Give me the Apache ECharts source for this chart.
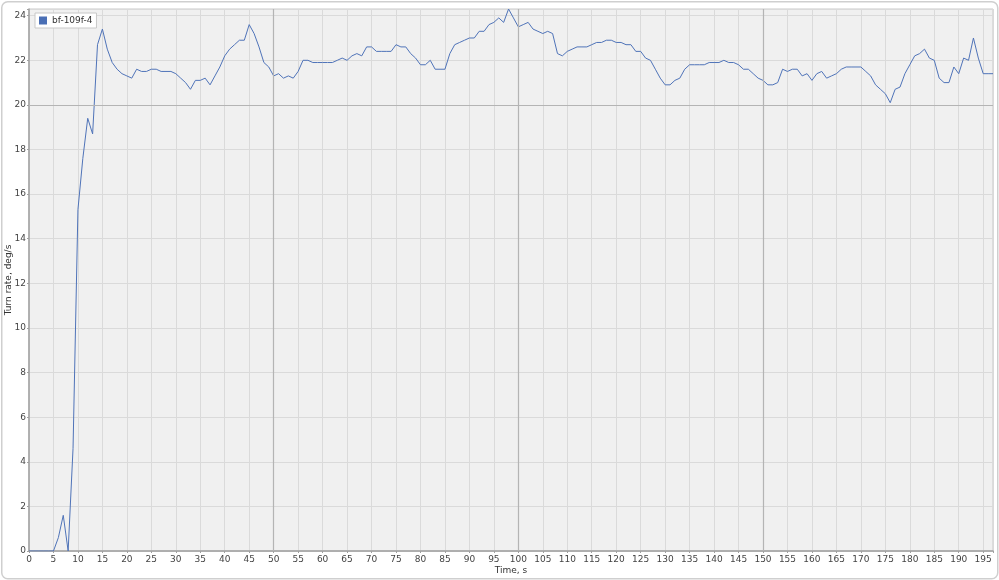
<!DOCTYPE html>
<html><head><meta charset="utf-8">
<script src="https://cdn.jsdelivr.net/npm/echarts@6/dist/echarts.min.js"></script>
<style>html,body{margin:0;padding:0;background:#fff}#c{width:999px;height:580px}</style>
</head><body><div id="c"></div>
<script>
const seriesName = 'bf-109f-4';
const xLabel = 'Time, s';
const yLabel = 'Turn rate, deg/s';
const times = [];
for (let t = 0; t <= 197; t++) times.push(t);
const turnRate = [
 0,0,0,0,0,0,0.6,1.6,0,4.6,
 15.3,17.6,19.4,18.7,22.7,23.4,22.5,21.9,21.6,21.4,
 21.3,21.2,21.6,21.5,21.5,21.6,21.6,21.5,21.5,21.5,
 21.4,21.2,21.0,20.7,21.1,21.1,21.2,20.9,21.3,21.7,
 22.2,22.5,22.7,22.9,22.9,23.6,23.2,22.6,21.9,21.7,
 21.3,21.4,21.2,21.3,21.2,21.5,22.0,22.0,21.9,21.9,
 21.9,21.9,21.9,22.0,22.1,22.0,22.2,22.3,22.2,22.6,
 22.6,22.4,22.4,22.4,22.4,22.7,22.6,22.6,22.3,22.1,
 21.8,21.8,22.0,21.6,21.6,21.6,22.3,22.7,22.8,22.9,
 23.0,23.0,23.3,23.3,23.6,23.7,23.9,23.7,24.3,23.9,
 23.5,23.6,23.7,23.4,23.3,23.2,23.3,23.2,22.3,22.2,
 22.4,22.5,22.6,22.6,22.6,22.7,22.8,22.8,22.9,22.9,
 22.8,22.8,22.7,22.7,22.4,22.4,22.1,22.0,21.6,21.2,
 20.9,20.9,21.1,21.2,21.6,21.8,21.8,21.8,21.8,21.9,
 21.9,21.9,22.0,21.9,21.9,21.8,21.6,21.6,21.4,21.2,
 21.1,20.9,20.9,21.0,21.6,21.5,21.6,21.6,21.3,21.4,
 21.1,21.4,21.5,21.2,21.3,21.4,21.6,21.7,21.7,21.7,
 21.7,21.5,21.3,20.9,20.7,20.5,20.1,20.7,20.8,21.4,
 21.8,22.2,22.3,22.5,22.1,22.0,21.2,21.0,21.0,21.7,
 21.4,22.1,22.0,23.0,22.1,21.4,21.4,21.4
];
const xMajorLines = [50, 100, 150];
const yMajorLines = [20];

const chart = echarts.init(document.getElementById('c'));
const font = 'DejaVu Sans';
chart.setOption({
  backgroundColor: '#fff',
  animation: false,
  graphic: [{
    type: 'rect', left: 1, top: 1, z: -10,
    shape: { width: 996, height: 577, r: 6 },
    style: { fill: '#fff', stroke: '#cfcfcf', lineWidth: 1.5 }
  }],
  grid: { left: 29, right: 6, top: 9, bottom: 29, show: true, containLabel: false,
          outerBoundsMode: 'none',
          backgroundColor: '#f0f0f0', borderColor: '#c8c8c8', borderWidth: 1 },
  legend: {
    left: 35, top: 13, icon: 'rect', itemWidth: 8, itemHeight: 8, itemGap: 4,
    padding: [3, 4, 3, 4], backgroundColor: '#fff', borderColor: '#c8c8c8', borderWidth: 1,
    textStyle: { fontFamily: font, fontSize: 9, color: '#333' },
    data: [seriesName]
  },
  xAxis: {
    type: 'value', min: 0, max: 197, interval: 5,
    name: xLabel, nameLocation: 'middle', nameGap: 15, nameMoveOverlap: false,
    nameTextStyle: { fontFamily: font, fontSize: 9, color: '#333' },
    axisLine: { lineStyle: { color: '#a0a0a0', width: 1.5 } },
    axisTick: { show: true, length: 2, lineStyle: { color: '#a0a0a0' } },
    axisLabel: { fontFamily: font, fontSize: 9, color: '#444', margin: 4, hideOverlap: false,
      formatter: v => (v % 5 === 0 ? String(v) : '') },
    splitLine: { show: true, lineStyle: { color: '#dadada', width: 1 } }
  },
  yAxis: {
    type: 'value', min: 0, max: 24.3, interval: 2,
    name: yLabel, nameLocation: 'middle', nameGap: 16, nameMoveOverlap: false,
    nameTextStyle: { fontFamily: font, fontSize: 9, color: '#333' },
    axisLine: { show: true, lineStyle: { color: '#a0a0a0', width: 1.5 } },
    axisTick: { show: true, length: 2, lineStyle: { color: '#a0a0a0' } },
    axisLabel: { fontFamily: font, fontSize: 9, color: '#444', margin: 3, hideOverlap: false,
      formatter: v => (v % 2 === 0 ? String(v) : '') },
    splitLine: { show: true, lineStyle: { color: '#dadada', width: 1 } }
  },
  series: [{
    name: seriesName, type: 'line', symbol: 'none',
    itemStyle: { color: '#4a6fb5' },
    lineStyle: { color: '#4f73b8', width: 1 },
    data: times.map((t, i) => [t, turnRate[i]]),
    markLine: {
      silent: true, symbol: 'none', label: { show: false },
      lineStyle: { color: '#b4b4b4', type: 'solid', width: 1.2 },
      data: xMajorLines.map(v => ({ xAxis: v })).concat(yMajorLines.map(v => ({ yAxis: v })))
    }
  }]
});
</script></body></html>
